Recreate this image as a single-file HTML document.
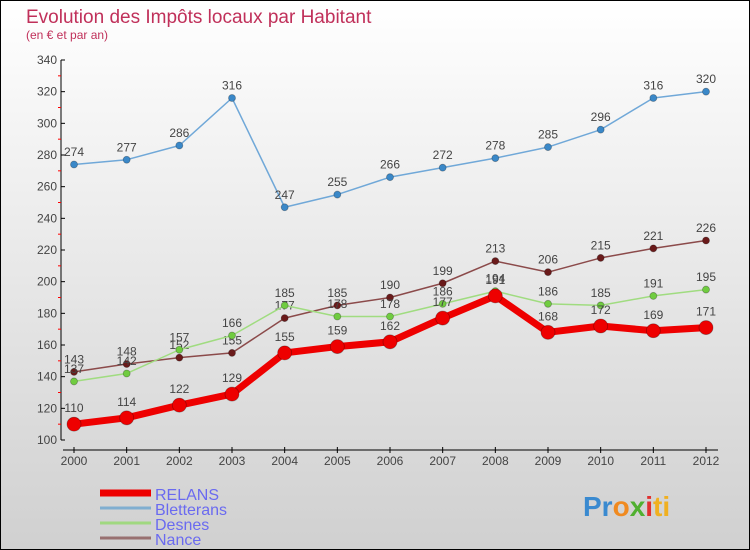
<!DOCTYPE html>
<html><head><meta charset="utf-8"><style>
body{margin:0}
#c{width:750px;height:550px;position:relative;overflow:hidden}
text{font-family:"Liberation Sans","DejaVu Sans",sans-serif}
</style></head><body>
<div id="c">
<svg id="s" width="750" height="550" xmlns="http://www.w3.org/2000/svg">
<defs><linearGradient id="bg" x1="0" y1="0" x2="0" y2="1"><stop offset="0" stop-color="#ffffff"/><stop offset="1" stop-color="#d0d0d0"/></linearGradient></defs>
<rect x="0.5" y="0.5" width="749" height="549" fill="url(#bg)" stroke="#000"/>
<text x="26" y="23" font-size="19" fill="#c0305a">Evolution des Impôts locaux par Habitant</text>
<text x="26" y="39" font-size="12" fill="#c0305a">(en € et par an)</text>
<g id="axes"></g><g id="series"></g><g id="legend"></g>
<text x="583" y="516" font-size="28" font-weight="bold" fill="#3a8ad0">Pr<tspan fill="#f08a20">o</tspan><tspan fill="#50b030">x</tspan><tspan fill="#e03030">i</tspan><tspan fill="#f0b020">ti</tspan></text>
</svg></div>
<script>
const years=[2000,2001,2002,2003,2004,2005,2006,2007,2008,2009,2010,2011,2012];
const relans=[110,114,122,129,155,159,162,177,191,168,172,169,171];
const bletterans=[274,277,286,316,247,255,266,272,278,285,296,316,320];
const desnes=[137,142,157,166,185,178,178,186,194,186,185,191,195];
const nance=[143,148,152,155,177,185,190,199,213,206,215,221,226];
const yTicks=[100,120,140,160,180,200,220,240,260,280,300,320,340];
const NS="http://www.w3.org/2000/svg";
const X=i=>74+i*(706-74)/(years.length-1);
const Y=v=>440-(v-100)*(380/240);
function mk(tag,attrs,parent,txt){const e=document.createElementNS(NS,tag);for(const k in attrs)e.setAttribute(k,attrs[k]);if(txt!==undefined)e.textContent=txt;parent.appendChild(e);return e;}
const ax=document.getElementById('axes');
let e=mk('line',{x1:61,y1:60,x2:61,y2:440,stroke:'#000'},ax);

e=mk('line',{x1:63,y1:450,x2:718,y2:450,stroke:'#000'},ax);

yTicks.forEach((t,i)=>{const y=Y(t);
 mk('line',{x1:61,y1:y,x2:65,y2:y,stroke:'#000'},ax);
 if(i<yTicks.length-1)mk('line',{x1:58,y1:Y(t+10),x2:61,y2:Y(t+10),stroke:'#f00'},ax);
 e=mk('text',{x:57,y:y+4,'font-size':12,fill:'#444','text-anchor':'end'},ax,t);
 });
years.forEach((yr,i)=>{const x=X(i);
 mk('line',{x1:x,y1:447,x2:x,y2:453,stroke:'#000'},ax);
 e=mk('text',{x:x,y:465,'font-size':12,fill:'#444','text-anchor':'middle'},ax,yr);
 });
const ser=document.getElementById('series');
function draw(name,data,color,w,r,dot){
 const g=mk('g',{},ser);
 let l=mk('polyline',{points:data.map((v,i)=>X(i)+','+Y(v)).join(' '),fill:'none',stroke:color,'stroke-width':w,'stroke-linejoin':'round'},g);
 
 data.forEach((v,i)=>{let c=mk('circle',{cx:X(i),cy:Y(v),r:r,fill:dot,stroke:'rgba(0,0,0,0.3)','stroke-width':0.8},g);
  
  let t=mk('text',{x:X(i),y:Y(v)-r-5,'font-size':12,fill:'#444','text-anchor':'middle'},g,v);
  });
}
draw('nance',nance,'#8b4a4a',1.5,3.5,'#6a1a1a');
draw('desnes',desnes,'#a0dc80',1.5,3.5,'#70cc40');
draw('bletterans',bletterans,'#70a8d8',1.5,3.5,'#3a88c8');
draw('relans',relans,'#ee0000',7,7,'#ee0000');
const lg=document.getElementById('legend');
const names=['RELANS','Bletterans','Desnes','Nance'],cols=['#ee0000','#80aed0','#a0d880','#987070'],ws=[7,3,3,3];
names.forEach((n,i)=>{const y=493+i*15;
 const g=mk('g',{},lg);
 mk('line',{x1:100,y1:y,x2:151,y2:y,stroke:cols[i],'stroke-width':ws[i]},g);
 mk('text',{x:155,y:y+7,'font-size':16,fill:'#6a6af0'},g,n);});
</script></body></html>
